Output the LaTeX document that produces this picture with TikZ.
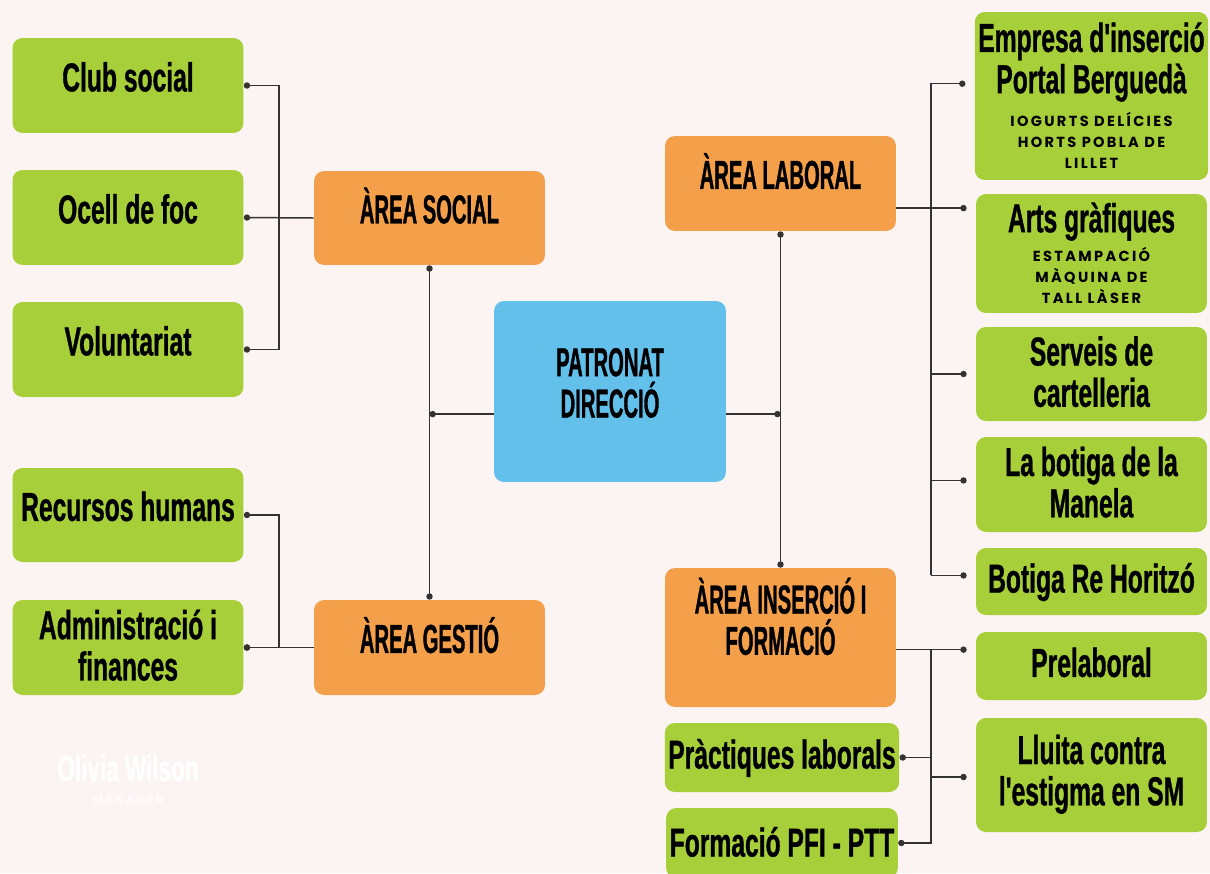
\documentclass[tikz,border=0pt]{standalone}
\usepackage{fontspec}
\usetikzlibrary{arrows.meta}

\newfontfamily\condfont[FakeStretch=0.61,BoldFeatures={FakeBold=0.8}]{Liberation Sans}
\newfontfamily\capfont[FakeStretch=0.5,BoldFeatures={FakeBold=0.8}]{Liberation Sans}
\newfontfamily\widefont[LetterSpace=16]{Poppins}

\definecolor{bgpink}{HTML}{FCF4F2}
\definecolor{limegreen}{HTML}{A6CF39}
\definecolor{areaorange}{HTML}{F4A04B}
\definecolor{skyblue}{HTML}{63C0EB}
\definecolor{linegray}{HTML}{333333}

\newcommand{\subline}[1]{{\widefont\bfseries\fontsize{8.3}{12}\selectfont #1}}

\tikzset{
  box/.style={rectangle, rounded corners=0.2cm, inner sep=2pt, align=center,
    text=black, minimum width=4.62cm, text depth=0.35cm},
  greenbox/.style={box, fill=limegreen, font=\condfont\bfseries\fontsize{23}{23.5}\selectfont},
  orangebox/.style={box, fill=areaorange, text depth=0.5cm, font=\capfont\bfseries\fontsize{23}{23.5}\selectfont},
  bluebox/.style={box, fill=skyblue, font=\capfont\bfseries\fontsize{23}{23.5}\selectfont},
  link/.style={draw=linegray, line width=0.85pt},
  dotend/.style={link, -{Circle[length=3.6pt]}},
  dotboth/.style={link, {Circle[length=3.6pt]}-{Circle[length=3.6pt]}},
  gapend/.style={dotend, shorten >=0.18cm}
}

\begin{document}
\begin{tikzpicture}[x=0.02cm, y=-0.02cm]
  \fill[bgpink] (0,0) rectangle (1210,873);
  \useasboundingbox (0,0) rectangle (1210,873);

  % centre
  \node[bluebox, minimum width=4.64cm, minimum height=3.62cm] (Pat) at (610,391.5) {PATRONAT\\DIRECCIÓ};

  % areas
  \node[orangebox, minimum height=1.88cm] (Soc) at (429.5,218) {ÀREA SOCIAL};
  \node[orangebox, minimum height=1.9cm] (Ges) at (429.5,647.5) {ÀREA GESTIÓ};
  \node[orangebox, minimum height=1.9cm] (Lab) at (780.5,183.5) {ÀREA LABORAL};
  \node[orangebox, minimum height=2.78cm, text depth=0.85cm] (Ins) at (780.5,637.5) {ÀREA INSERCIÓ I\\FORMACIÓ};

  % left side
  \node[greenbox, minimum height=1.9cm] (Club) at (128,85.5) {Club social};
  \node[greenbox, minimum height=1.9cm] (Ocell) at (128,217.5) {Ocell de foc};
  \node[greenbox, minimum height=1.9cm] (Volun) at (128,349.5) {Voluntariat};
  \node[greenbox, minimum height=1.88cm] (Recur) at (128,515) {Recursos humans};
  \node[greenbox, minimum height=1.9cm, text depth=0.1cm] (Admin) at (128,647.5) {Administració i\\finances};

  % right side
  \node[greenbox, minimum height=3.36cm, text depth=0.02cm] (Emp) at (1091.5,96)
    {Empresa d'inserció\\Portal Berguedà\\[-4.5pt]
     \subline{IOGURTS DELÍCIES}\\[-11.5pt]\subline{HORTS POBLA DE}\\[-11.5pt]\subline{LILLET}};
  \node[greenbox, minimum height=2.38cm, text depth=0.02cm] (Arts) at (1091.5,253.5)
    {Arts gràfiques\\[-7pt]
     \subline{ESTAMPACIÓ}\\[-11.5pt]\subline{MÀQUINA DE}\\[-11.5pt]\subline{TALL LÀSER}};
  \node[greenbox, minimum height=1.88cm, text depth=0.1cm] (Serv) at (1091.5,374) {Serveis de\\cartelleria};
  \node[greenbox, minimum height=1.9cm, text depth=0.1cm] (Man) at (1091.5,484.5) {La botiga de la\\Manela};
  \node[greenbox, minimum height=1.34cm, text depth=0.15cm] (Re) at (1091.5,581.5) {Botiga Re Horitzó};
  \node[greenbox, minimum height=1.36cm, text depth=0.15cm] (Pre) at (1091.5,666) {Prelaboral};
  \node[greenbox, minimum height=2.28cm, text depth=0.2cm] (Llu) at (1091.5,775) {Lluita contra\\l'estigma en SM};
  \node[greenbox, minimum width=4.6cm, minimum height=1.38cm, text depth=0.15cm] (Prac) at (782,757.5) {Pràctiques laborals};
  \node[greenbox, minimum width=4.6cm, minimum height=1.4cm, text depth=0.05cm] (Form) at (782,843) {Formació PFI - PTT};

  % watermark
  \node[text=white, font=\condfont\bfseries\fontsize{21}{22}\selectfont] (Wm) at (128,768) {Olivia Wilson};
  \node[text=white, font=\widefont\fontsize{7}{8}\selectfont] (WmRole) at (128,800) {MANAGER};

  \coordinate (busL) at (279,0);
  \coordinate (busR) at (931,208);
  \coordinate (busI) at (931,650);

  % left links
  \draw[dotboth] (Club.east) -- (busL |- Club.east) -- (busL |- Volun.east) -- (Volun.east);
  \draw[dotend] (Soc.west) -- (Ocell.east);
  \draw[dotboth] (Recur.east) -- (busL |- Recur.east) -- (busL |- Admin.east) -- (Admin.east);
  \draw[dotend] (Ges.west) -- (Admin.east);

  % centre links
  \draw[dotboth] (Soc.south) -- (Ges.north);
  \draw[dotboth] (Lab.south) -- (Ins.north);
  \draw[dotend] (Pat.191) -- (Soc.south |- Pat.191);
  \draw[dotend] (Pat.-11) -- (Lab.south |- Pat.-11);

  % right links
  \draw[gapend] (Lab.-12) -- (Lab.-12 -| Arts.west);
  \draw[gapend] (busR |- Re.177) -- (busR |- Emp.174) -- (Emp.174);
  \draw[gapend] (busR |- Serv.west) -- (Serv.west);
  \draw[gapend] (busR |- Man.178) -- (Man.178);
  \draw[gapend] (busR |- Re.177) -- (Re.177);

  \draw[gapend] (Ins.-6) -- (Ins.-6 -| Pre.west);
  \draw[dotend] (busI) -- (busI |- Form.east) -- (Form.east);
  \draw[dotend] (busI |- Prac.east) -- (Prac.east);
  \draw[gapend] (busI |- Llu.181) -- (Llu.181);
\end{tikzpicture}
\end{document}
